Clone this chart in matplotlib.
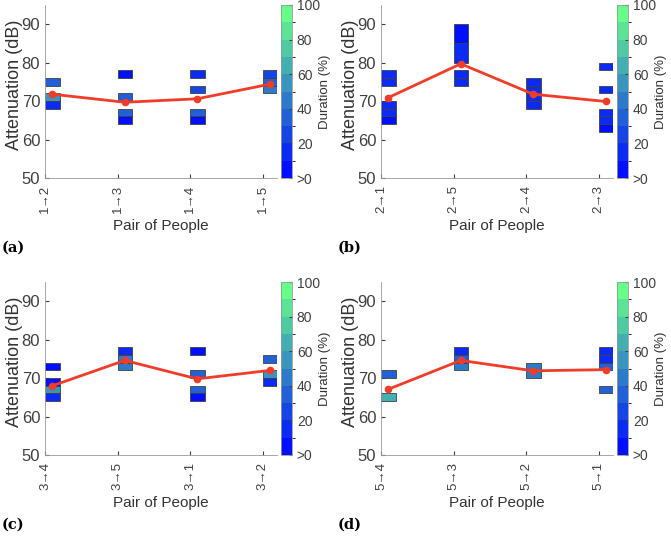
import numpy as np
import matplotlib
matplotlib.use("Agg")
from matplotlib import pyplot as plt
from matplotlib.colors import LinearSegmentedColormap, BoundaryNorm
from matplotlib.patches import Rectangle
import matplotlib.colorbar as mcolorbar

plt.rcParams['font.family'] = ['Liberation Sans', 'DejaVu Sans']

# pair labels for every panel
pairs_a = ['1→2', '1→3', '1→4', '1→5']
pairs_b = ['2→1', '2→5', '2→4', '2→3']
pairs_c = ['3→4', '3→5', '3→1', '3→2']
pairs_d = ['5→4', '5→3', '5→2', '5→1']

# mean attenuation (red line), dB
mean_a = [71.8, 69.7, 70.6, 74.4]
mean_b = [70.9, 79.7, 71.8, 69.9]
mean_c = [68.0, 74.6, 69.8, 72.0]
mean_d = [67.1, 74.6, 71.9, 72.2]

# attenuation bins: (pair index, low dB, high dB, duration %)
bins_a = [(0, 74, 76, 35), (0, 70, 72, 55), (0, 68, 70, 12),
          (1, 76, 78, 8), (1, 70, 72, 30), (1, 66, 68, 30), (1, 64, 66, 8),
          (2, 76, 78, 18), (2, 72, 74, 28), (2, 66, 68, 30), (2, 64, 66, 8),
          (3, 76, 78, 25), (3, 74, 76, 35), (3, 72, 74, 40)]
bins_b = [(0, 76, 78, 12), (0, 74, 76, 15), (0, 68, 70, 10), (0, 66, 68, 12), (0, 64, 66, 8),
          (1, 85, 90, 8), (1, 80, 85, 18), (1, 76, 78, 12), (1, 74, 76, 15),
          (2, 74, 76, 15), (2, 72, 74, 15), (2, 70, 72, 15), (2, 68, 70, 18),
          (3, 78, 80, 15), (3, 72, 74, 15), (3, 66, 68, 12), (3, 64, 66, 12), (3, 62, 64, 8)]
bins_c = [(0, 72, 74, 8), (0, 68, 70, 8), (0, 66, 68, 55), (0, 64, 66, 10),
          (1, 76, 78, 15), (1, 74, 76, 40), (1, 72, 74, 40),
          (2, 76, 78, 8), (2, 70, 72, 30), (2, 66, 68, 30), (2, 64, 66, 8),
          (3, 74, 76, 30), (3, 70, 72, 55), (3, 68, 70, 10)]
bins_d = [(0, 70, 72, 30), (0, 64, 66, 65),
          (1, 76, 78, 15), (1, 74, 76, 35), (1, 72, 74, 40),
          (2, 72, 74, 48), (2, 70, 72, 48),
          (3, 76, 78, 15), (3, 74, 76, 18), (3, 72, 74, 35), (3, 66, 68, 30)]

cmap = LinearSegmentedColormap.from_list('dur', ['#0010ff', '#66ff88'], N=10)
norm = BoundaryNorm(np.arange(0, 101, 10), 10)

W, H = 671, 540
fig = plt.figure(figsize=(W / 100, H / 100), dpi=100)


def px_axes(left, top, right, bottom):
    return fig.add_axes([left / W, 1 - bottom / H, (right - left) / W, (bottom - top) / H])


def draw_panel(left, top, letter, pairs, means, bins):
    ax = px_axes(left, top, left + 232, top + 173)
    cax = px_axes(left + 236, top, left + 247, top + 173)

    for i, lo, hi, dur in bins:
        ax.add_patch(Rectangle((i + 1, lo), 0.2, hi - lo, facecolor=cmap(norm(dur)),
                               edgecolor='#404040', linewidth=0.6, zorder=2))
    xs = np.arange(1, len(pairs) + 1) + 0.1
    ax.plot(xs, means, color='#f03c28', linewidth=2, marker='o', markersize=4.5, zorder=3)

    ax.set_xlim(1, 4.2)
    ax.set_ylim(50, 95)
    ax.set_yticks([50, 60, 70, 80, 90])
    ax.set_xticks([1, 2, 3, 4])
    ax.set_xticklabels(pairs, rotation=90, fontsize=9.5)
    ax.tick_params(axis='y', labelsize=12, direction='in', length=3, colors='#404040')
    ax.tick_params(axis='x', direction='in', length=3, pad=5, colors='#404040')
    for s in ['top', 'right']:
        ax.spines[s].set_visible(False)
    for s in ['left', 'bottom']:
        ax.spines[s].set_color('#999999')
        ax.spines[s].set_linewidth(0.6)

    ax.set_ylabel('Attenuation (dB)', fontsize=13, color='#333333')
    ax.yaxis.label.set_va('center')
    ax.yaxis.set_label_coords(-0.13, 0.54)
    ax.set_xlabel('Pair of People', fontsize=11, color='#333333')
    ax.xaxis.label.set_va('center')
    ax.xaxis.set_label_coords(0.498, -0.275)

    cb = mcolorbar.ColorbarBase(cax, cmap=cmap, norm=norm, ticks=[0, 20, 40, 60, 80, 100])
    cb.set_ticklabels(['>0', '20', '40', '60', '80', '100'])
    cb.outline.set_edgecolor('#999999')
    cb.outline.set_linewidth(0.6)
    cax.tick_params(labelsize=10, direction='in', length=2, colors='#404040')
    cb.set_label('Duration (%)', fontsize=9.5, color='#333333')
    cax.yaxis.label.set_va('center')
    cax.yaxis.set_label_coords(4.0, 0.5)

    fig.text((left - 43) / W, 1 - (top + 243) / H, '(' + letter + ')',
             fontsize=10.5, fontweight='bold', family='DejaVu Serif', va='center', ha='left')


draw_panel(45, 5, 'a', pairs_a, mean_a, bins_a)
draw_panel(381, 5, 'b', pairs_b, mean_b, bins_b)
draw_panel(45, 282, 'c', pairs_c, mean_c, bins_c)
draw_panel(381, 282, 'd', pairs_d, mean_d, bins_d)

fig.savefig('out.png', dpi=100)
